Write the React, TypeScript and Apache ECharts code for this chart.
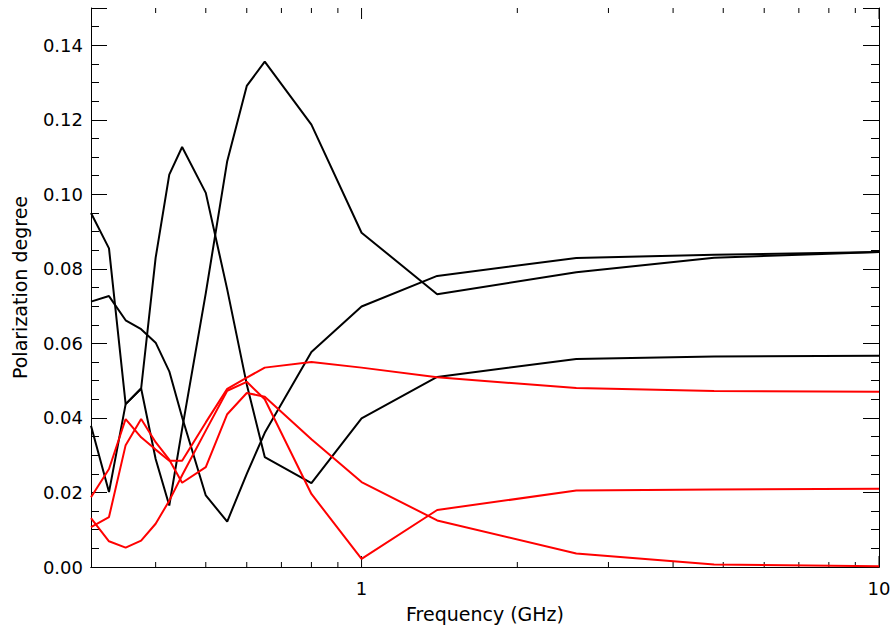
import React, { useEffect, useRef } from "react";
import * as echarts from "echarts";

const freqs = [0.3, 0.325, 0.35, 0.375, 0.4, 0.425, 0.45, 0.5, 0.55, 0.6, 0.65, 0.8, 1.0, 1.4, 2.6, 4.8, 10];

const black1 = [0.095, 0.0855, 0.0437, 0.0479, 0.083, 0.1053, 0.1127, 0.1004, 0.0745, 0.049, 0.0295, 0.0225, 0.0399, 0.051, 0.0558, 0.0565, 0.0567];
const black2 = [0.0712, 0.0727, 0.0662, 0.0638, 0.0602, 0.0525, 0.0402, 0.0192, 0.0122, 0.025, 0.036, 0.0577, 0.0699, 0.0781, 0.0829, 0.0838, 0.0845];
const black3 = [0.0379, 0.0201, 0.0437, 0.0479, 0.029, 0.0165, 0.037, 0.0735, 0.1089, 0.1291, 0.1356, 0.1187, 0.0897, 0.0732, 0.0791, 0.083, 0.0845];
const redA = [0.0187, 0.0263, 0.0397, 0.0348, 0.0315, 0.0285, 0.0285, 0.0388, 0.0478, 0.0508, 0.0535, 0.055, 0.0535, 0.0509, 0.048, 0.0472, 0.047];
const redB = [0.0131, 0.0069, 0.0052, 0.0071, 0.0116, 0.0178, 0.0246, 0.0366, 0.0473, 0.0497, 0.045, 0.0196, 0.0022, 0.0153, 0.0205, 0.0208, 0.021];
const redC = [0.0107, 0.0134, 0.0327, 0.0397, 0.0335, 0.0288, 0.0226, 0.0268, 0.041, 0.0467, 0.0457, 0.0343, 0.0228, 0.0125, 0.0036, 0.0007, 0.0002];

const majorXTicks = [1, 10];
const minorXTicks = [0.4, 0.5, 0.6, 0.7, 0.8, 0.9, 2, 3, 4, 5, 6, 7, 8, 9];

const X_MIN = 0.3;
const X_MAX = 10;
const Y_MIN = 0;
const Y_MAX = 0.15;

const FONT = "DejaVu Sans";

export default function App() {
  const ref = useRef<HTMLDivElement>(null);

  useEffect(() => {
    if (!ref.current) return;
    const chart = echarts.init(ref.current, undefined, { renderer: "svg" });

    const mkLine = (vals: number[], color: string) => ({
      type: "line",
      data: freqs.map((f, i) => [f, vals[i]]),
      showSymbol: false,
      symbol: "none",
      lineStyle: { color, width: 2 },
      itemStyle: { color },
      xAxisIndex: 0,
      yAxisIndex: 0,
      silent: true,
      clip: true,
    });

    const tickData = [
      ...majorXTicks.map((v) => [v, 1]),
      ...minorXTicks.map((v) => [v, 0]),
    ];

    const option: any = {
      animation: false,
      backgroundColor: "#ffffff",
      grid: { left: 91, right: 15, top: 8, bottom: 60, containLabel: false },
      xAxis: [
        {
          type: "log",
          logBase: 10,
          min: X_MIN,
          max: X_MAX,
          position: "bottom",
          name: "Frequency (GHz)",
          nameLocation: "middle",
          nameGap: 37,
          nameTextStyle: { fontFamily: FONT, fontSize: 19, color: "#000" },
          axisLine: { show: true, lineStyle: { color: "#000", width: 1 } },
          axisTick: { show: false },
          minorTick: { show: false },
          splitLine: { show: false },
          minorSplitLine: { show: false },
          axisLabel: {
            show: true,
            fontFamily: FONT,
            fontSize: 18,
            color: "#000",
            margin: 12,
            showMinLabel: false,
            formatter: (v: number) => {
              const l = Math.log10(v);
              return Math.abs(l - Math.round(l)) < 1e-6 ? String(Math.round(v)) : "";
            },
          },
        },
        {
          type: "log",
          logBase: 10,
          min: X_MIN,
          max: X_MAX,
          position: "top",
          axisLine: { show: true, lineStyle: { color: "#000", width: 1 } },
          axisTick: { show: false },
          axisLabel: { show: false },
          splitLine: { show: false },
        },
      ],
      yAxis: [
        {
          type: "value",
          min: Y_MIN,
          max: Y_MAX,
          interval: 0.02,
          position: "left",
          name: "Polarization degree",
          nameLocation: "middle",
          nameGap: 62,
          nameRotate: 90,
          nameTextStyle: { fontFamily: FONT, fontSize: 19, color: "#000" },
          axisLine: { show: true, lineStyle: { color: "#000", width: 1 } },
          axisTick: { show: true, inside: true, length: 16, lineStyle: { color: "#000", width: 1 } },
          minorTick: { show: true, splitNumber: 4, length: 8, lineStyle: { color: "#000", width: 1 } },
          splitLine: { show: false },
          minorSplitLine: { show: false },
          axisLabel: {
            fontFamily: FONT,
            fontSize: 18,
            color: "#000",
            margin: 8,
            formatter: (v: number) => (v > 0.145 ? "" : v.toFixed(2)),
          },
        },
        {
          type: "value",
          min: Y_MIN,
          max: Y_MAX,
          interval: 0.02,
          position: "right",
          axisLine: { show: true, lineStyle: { color: "#000", width: 1 } },
          axisTick: { show: true, inside: true, length: 16, lineStyle: { color: "#000", width: 1 } },
          minorTick: { show: true, splitNumber: 4, length: 8, lineStyle: { color: "#000", width: 1 } },
          splitLine: { show: false },
          minorSplitLine: { show: false },
          axisLabel: { show: false },
        },
      ],
      series: [
        mkLine(black1, "#000000"),
        mkLine(black2, "#000000"),
        mkLine(black3, "#000000"),
        mkLine(redA, "#ff0000"),
        mkLine(redB, "#ff0000"),
        mkLine(redC, "#ff0000"),
        {
          type: "custom",
          xAxisIndex: 0,
          yAxisIndex: 0,
          silent: true,
          clip: false,
          data: tickData,
          encode: { x: 0, y: 1 },
          renderItem: (params: any, api: any) => {
            const v = api.value(0);
            const major = api.value(1) === 1;
            const len = major ? 11 : 5;
            const pb = api.coord([v, Y_MIN]);
            const pt = api.coord([v, Y_MAX]);
            const style = { stroke: "#000", lineWidth: 1 };
            return {
              type: "group",
              children: [
                { type: "line", shape: { x1: pb[0], y1: pb[1], x2: pb[0], y2: pb[1] - len }, style },
                { type: "line", shape: { x1: pt[0], y1: pt[1], x2: pt[0], y2: pt[1] + len }, style },
              ],
            };
          },
        },
      ],
    };

    chart.setOption(option);
    return () => chart.dispose();
  }, []);

  return (
    <div
      ref={ref}
      style={{ position: "fixed", left: 0, top: 0, width: 894, height: 628, background: "#fff" }}
    />
  );
}
